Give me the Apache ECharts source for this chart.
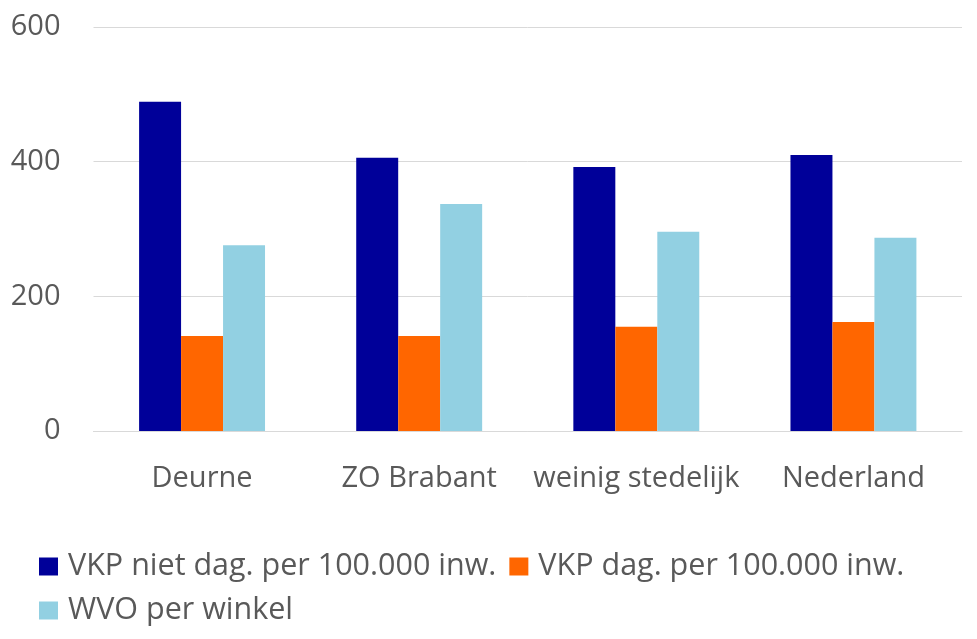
<!DOCTYPE html>
<html>
<head>
<meta charset="utf-8">
<script src="https://cdn.jsdelivr.net/npm/echarts@6/dist/echarts.min.js"></script>
<style>
html,body{margin:0;padding:0;background:#fff;}
#chart{width:977px;height:639px;}
</style>
</head>
<body>
<div id="chart"></div>
<script>
var categories = ['Deurne', 'ZO Brabant', 'weinig stedelijk', 'Nederland'];
var seriesNames = ['VKP niet dag. per 100.000 inw.', 'VKP dag. per 100.000 inw.', 'WVO per winkel'];
var vkpNietDag = [489, 406, 392, 410];
var vkpDag = [141, 141, 155, 162];
var wvoPerWinkel = [276, 337, 296, 287];
var yTicks = [0, 200, 400, 600];
var colors = ['#000099', '#FF6600', '#92D0E2'];

var font = '"Open Sans", "Noto Sans", sans-serif';
var txt = '#595959';

var chart = echarts.init(document.getElementById('chart'), null, {renderer: 'canvas'});
chart.setOption({
  animation: false,
  textStyle: {fontFamily: font},
  grid: {left: 93.5, right: 15, top: 27, bottom: 208, containLabel: false},
  legend: {
    left: 39, top: 551, right: 10,
    padding: 0,
    itemWidth: 19, itemHeight: 18, itemGap: 13,
    icon: 'rect',
    textStyle: {fontSize: 30.5, color: txt, fontFamily: font, padding: [0, 0, 0, 5], lineHeight: 30},
    data: seriesNames
  },
  xAxis: {
    type: 'category',
    data: categories,
    axisLine: {show: true, lineStyle: {color: '#D9D9D9', width: 1}},
    axisTick: {show: false},
    axisLabel: {fontSize: 29, color: txt, margin: 33, fontFamily: font, interval: 0}
  },
  yAxis: {
    type: 'value',
    min: yTicks[0], max: yTicks[yTicks.length - 1], interval: 200,
    axisLine: {show: false},
    axisTick: {show: false},
    splitLine: {lineStyle: {color: '#D9D9D9', width: 1}},
    axisLabel: {fontSize: 29, color: txt, margin: 33, fontFamily: font, padding: [5, 0, 0, 0]}
  },
  series: [
    {name: seriesNames[0], type: 'bar', data: vkpNietDag, itemStyle: {color: colors[0]}, barGap: '0%', barCategoryGap: '42%'},
    {name: seriesNames[1], type: 'bar', data: vkpDag, itemStyle: {color: colors[1]}, barGap: '0%', barCategoryGap: '42%'},
    {name: seriesNames[2], type: 'bar', data: wvoPerWinkel, itemStyle: {color: colors[2]}, barGap: '0%', barCategoryGap: '42%'}
  ]
});
</script>
</body>
</html>
